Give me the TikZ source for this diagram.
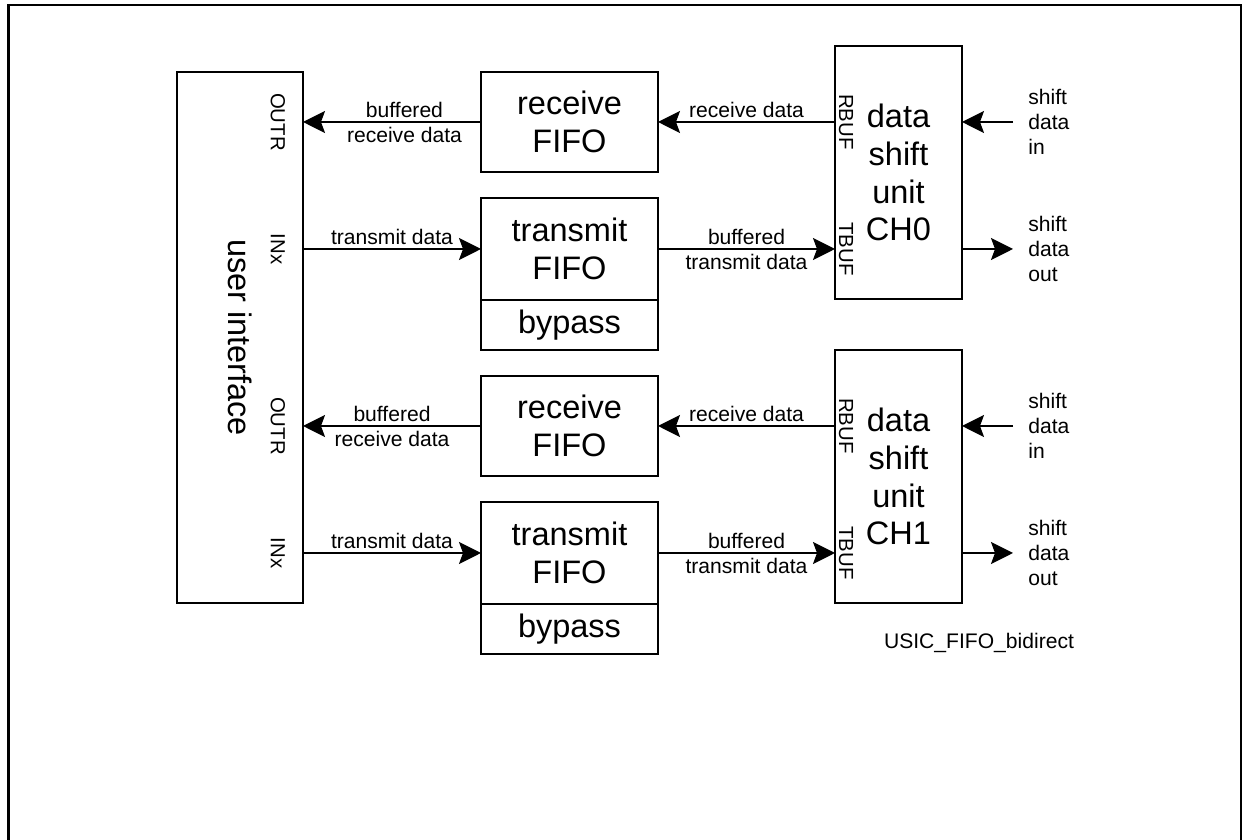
\documentclass[tikz,border=0pt]{standalone}
\usepackage{fontspec}
\setmainfont{Liberation Sans}
\usetikzlibrary{positioning, arrows.meta, calc}

\begin{document}
\begin{tikzpicture}[
    blk/.style={draw, line width=1.1pt, outer sep=0pt, inner sep=0pt, align=center,
      font=\fontsize{18.5}{21.5}\selectfont},
    port/.style={rotate=-90, inner sep=0pt, font=\fontsize{11.6}{14}\selectfont},
    lbl/.style={align=center, inner sep=2pt, font=\fontsize{12}{14.2}\selectfont},
    io/.style={lbl, align=left, anchor=west, inner xsep=0.3cm},
    link/.style={line width=1pt, -{Stealth[length=4.4mm, width=4.4mm, inset=0.8mm]}}]
    \useasboundingbox (0,0) rectangle (24.84,16.8);
    % frame, open at the bottom
    \draw[line width=1.4pt] (0.166,0) -- (0.166,16.7) -- (24.82,16.7) -- (24.82,0);

    \node[blk, minimum width=2.52cm, minimum height=10.62cm] (ui) at (4.8,10.05) {};
    \node[blk, draw=none, rotate=-90] (uitxt) at (ui.center) {user interface};

    \foreach \ch/\yy/\bpos in {0/0/0.43, 1/-6.08/0.5} {
      \begin{scope}[yshift=\yy cm]
        \node[blk, minimum width=3.54cm, minimum height=2cm] (rx\ch) at (11.39,14.36) {receive\\FIFO};
        \node[blk, minimum width=3.54cm, minimum height=2.04cm] (tx\ch) at (11.39,11.82) {transmit\\FIFO};
        \node[blk, minimum width=3.54cm, minimum height=1cm, below=0pt of tx\ch] (bp\ch) {bypass};
        \node[blk, minimum width=2.54cm, minimum height=5.06cm] (su\ch) at (17.97,13.35)
          {data\\shift\\unit\\CH\ch};
        \node[io] (sin\ch) at (20.26,14.36) {shift\\data\\in};
        \node[io] (sout\ch) at (20.26,11.82) {shift\\data\\out};
      \end{scope}
      % port names
      \node[port] (outr\ch) at ($(ui.east |- rx\ch.west)+(-0.5,0)$) {OUTR};
      \node[port] (inx\ch) at ($(ui.east |- tx\ch.west)+(-0.5,0)$) {INx};
      \node[port] (rbuf\ch) at ($(su\ch.west |- rx\ch.east)+(0.22,0)$) {RBUF};
      \node[port] (tbuf\ch) at ($(su\ch.west |- tx\ch.east)+(0.22,0)$) {TBUF};
      % data paths
      \draw[link] (rx\ch.west) -- node[lbl, pos=\bpos] (brd\ch) {buffered\\receive data} (rx\ch.west -| ui.east);
      \draw[link] (tx\ch.west -| ui.east) -- node[lbl, above] (td\ch) {transmit data} (tx\ch.west);
      \draw[link] (rx\ch.east -| su\ch.west) -- node[lbl, above] (rd\ch) {receive data} (rx\ch.east);
      \draw[link] (tx\ch.east) -- node[lbl] (btd\ch) {buffered\\transmit data} (tx\ch.east -| su\ch.west);
      \draw[link] (sin\ch.west) -- (sin\ch.west -| su\ch.east);
      \draw[link] (sout\ch.west -| su\ch.east) -- (sout\ch.west);
    }

    \node[lbl] (tag) at (19.58,3.94) {USIC\_FIFO\_bidirect};
\end{tikzpicture}
\end{document}
